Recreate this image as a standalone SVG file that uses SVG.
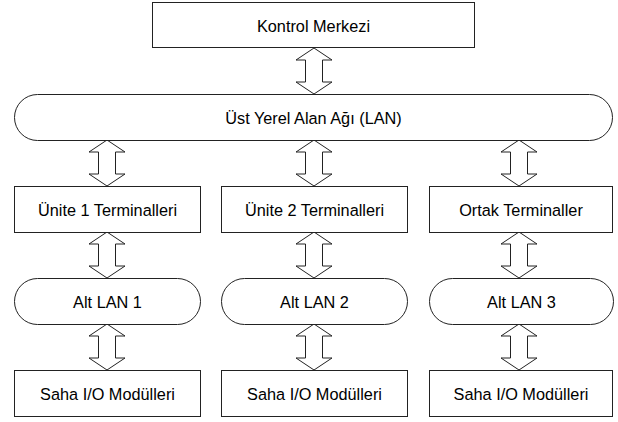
<svg xmlns="http://www.w3.org/2000/svg" xmlns:xlink="http://www.w3.org/1999/xlink" width="618" height="422" viewBox="0 0 618 422">
<style>
.b{fill:#fff;stroke:#222;stroke-width:1}
.a{fill:#fff;stroke:#222;stroke-width:1}
text{font-family:"Liberation Sans",Arial,sans-serif;font-size:16.3px;fill:#000;text-anchor:middle;dominant-baseline:central}
</style>
<defs>
<path id="arr" d="M0,0 L18,12 L8.5,12 L8.5,34 L18,34 L0,46 L-18,34 L-8.5,34 L-8.5,12 L-18,12 Z"/>
</defs>
<rect width="618" height="422" fill="#fff"/>
<g id="connectors">
<use xlink:href="#arr" class="a" x="314" y="48"/>
<use xlink:href="#arr" class="a" x="107" y="140"/>
<use xlink:href="#arr" class="a" x="314" y="140"/>
<use xlink:href="#arr" class="a" x="519" y="140"/>
<use xlink:href="#arr" class="a" x="107" y="232"/>
<use xlink:href="#arr" class="a" x="314" y="232"/>
<use xlink:href="#arr" class="a" x="519" y="232"/>
<use xlink:href="#arr" class="a" x="107" y="324"/>
<use xlink:href="#arr" class="a" x="314" y="324"/>
<use xlink:href="#arr" class="a" x="519" y="324"/>
</g>
<g id="kontrol"><rect class="b" x="152.5" y="2.5" width="322" height="45"/><text x="313.5" y="25.5">Kontrol Merkezi</text></g>
<g id="lan"><rect class="b" x="14.5" y="94.5" width="598" height="46" rx="23" ry="23"/><text x="313.5" y="117.5">Üst Yerel Alan Ağı (LAN)</text></g>
<g id="unite1"><rect class="b" x="14.5" y="186.5" width="186" height="46"/><text x="107.5" y="209.5">Ünite 1 Terminalleri</text></g>
<g id="unite2"><rect class="b" x="221.5" y="186.5" width="186" height="46"/><text x="314.5" y="209.5">Ünite 2 Terminalleri</text></g>
<g id="ortak"><rect class="b" x="429.5" y="186.5" width="183" height="46"/><text x="521" y="209.5">Ortak Terminaller</text></g>
<g id="alt1"><rect class="b" x="14.5" y="278.5" width="186" height="46" rx="23" ry="23"/><text x="107.5" y="301.5">Alt LAN 1</text></g>
<g id="alt2"><rect class="b" x="221.5" y="278.5" width="186" height="46" rx="23" ry="23"/><text x="314.5" y="301.5">Alt LAN 2</text></g>
<g id="alt3"><rect class="b" x="429.5" y="278.5" width="184" height="46" rx="23" ry="23"/><text x="521.5" y="301.5">Alt LAN 3</text></g>
<g id="saha1"><rect class="b" x="14.5" y="370.5" width="186" height="46"/><text x="107.5" y="393.5">Saha I/O Modülleri</text></g>
<g id="saha2"><rect class="b" x="221.5" y="370.5" width="186" height="46"/><text x="314.5" y="393.5">Saha I/O Modülleri</text></g>
<g id="saha3"><rect class="b" x="429.5" y="370.5" width="183" height="46"/><text x="521" y="393.5">Saha I/O Modülleri</text></g>
</svg>
